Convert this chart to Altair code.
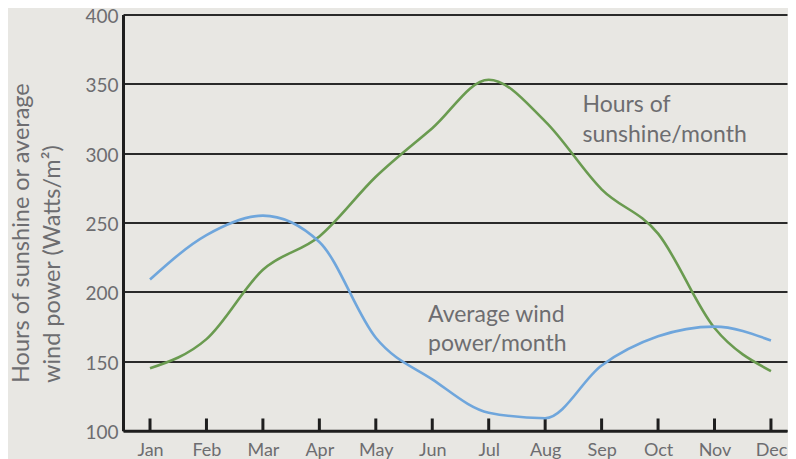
import altair as alt
import pandas as pd

months = ["Jan", "Feb", "Mar", "Apr", "May", "Jun", "Jul", "Aug", "Sep", "Oct", "Nov", "Dec"]
sunshine = [145, 166, 216, 240, 283, 318, 353, 323, 274, 242, 174, 143]
wind = [209, 241, 255, 236, 167, 137, 113, 109, 147, 168, 175, 165]
y_ticks = [100, 150, 200, 250, 300, 350, 400]

FONT = "Lato"
GRAY = "#6d6d70"
DARK = "#1e1e1e"

month_num = list(range(1, len(months) + 1))
df = pd.DataFrame({
    "m": month_num * 2,
    "value": sunshine + wind,
    "series": ["Hours of sunshine/month"] * 12 + ["Average wind power/month"] * 12,
})
ticks_df = pd.DataFrame({"m": month_num})

label_expr = "[" + ",".join(f"'{m}'" for m in months) + "][datum.value - 1]"

x_scale = alt.Scale(domain=[0.5217, 12.284], nice=False, zero=False)
y_scale = alt.Scale(domain=[100, 400], nice=False, zero=False)

x_axis = alt.Axis(
    values=month_num, labelExpr=label_expr, title=None, grid=False, ticks=False,
    domainColor=DARK, domainWidth=3, labelFont=FONT, labelFontSize=18,
    labelColor=GRAY, labelPadding=11, labelFlush=False,
)
y_axis = alt.Axis(
    values=y_ticks, grid=True, gridColor="#2a2a2a", gridWidth=2, ticks=False,
    domainColor=DARK, domainWidth=3, labelFont=FONT, labelFontSize=19,
    labelColor=GRAY, labelPadding=5, labelOffset=2, labelFlush=False,
    title=["Hours of sunshine or average", "wind power (Watts/m²)"],
    titleFont=FONT, titleFontSize=23.5, titleFontWeight="normal", titleColor=GRAY,
    titleAngle=270, titleAlign="left", titleBaseline="alphabetic",
    titleX=-95, titleY=368, titleLineHeight=31.5,
)

lines = alt.Chart(df).mark_line(interpolate="monotone", strokeWidth=2.6).encode(
    x=alt.X("m:Q", scale=x_scale, axis=x_axis),
    y=alt.Y("value:Q", scale=y_scale, axis=y_axis),
    color=alt.Color(
        "series:N",
        scale=alt.Scale(domain=["Hours of sunshine/month", "Average wind power/month"],
                        range=["#6a9b50", "#6fa6dc"]),
        legend=None,
    ),
)

tick_marks = alt.Chart(ticks_df).mark_rule(color=DARK, strokeWidth=3).encode(
    x=alt.X("m:Q", scale=x_scale),
    y=alt.value(404),
    y2=alt.value(416.5),
)

ann_sun = alt.Chart(pd.DataFrame({"t": ["Hours of\nsunshine/month"]})).mark_text(
    align="left", baseline="alphabetic", lineBreak="\n", lineHeight=29.5,
    font=FONT, fontSize=23, color=GRAY,
).encode(text="t:N", x=alt.value(459.5), y=alt.value(97.8))

ann_wind = alt.Chart(pd.DataFrame({"t": ["Average wind\npower/month"]})).mark_text(
    align="left", baseline="alphabetic", lineBreak="\n", lineHeight=29.5,
    font=FONT, fontSize=23, color=GRAY,
).encode(text="t:N", x=alt.value(305), y=alt.value(307.2))

chart = alt.layer(tick_marks, lines, ann_sun, ann_wind).properties(
    width=664, height=416.2,
    autosize=alt.AutoSizeParams(type="none"),
    padding={"left": 115, "top": 6.5, "right": 1, "bottom": 36},
    background="#e8e7e3",
).configure_view(stroke="transparent")

chart.save("out.html", embed_options={"renderer": "svg", "actions": False})
